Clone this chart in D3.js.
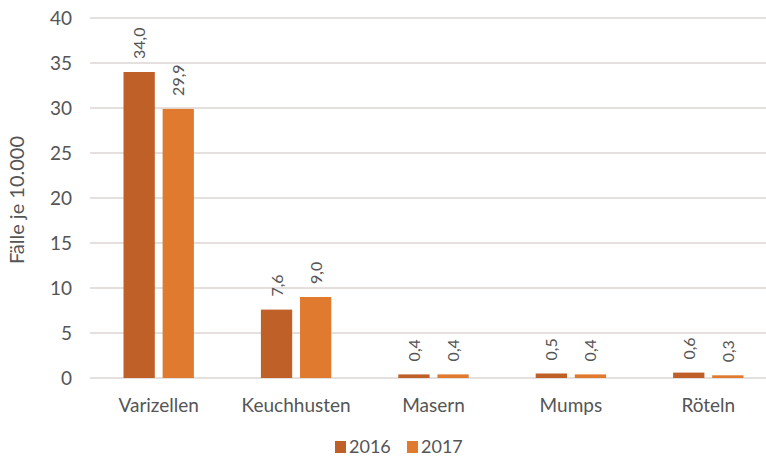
<!DOCTYPE html>
<html><head><meta charset="utf-8">
<script src="https://cdn.jsdelivr.net/npm/d3@7"></script>
<style>body{margin:0;background:#fff;overflow:hidden}svg{display:block}text{font-family:Lato,"Open Sans",sans-serif;fill:#555}</style>
</head><body>
<script>
const categories = ["Varizellen","Keuchhusten","Masern","Mumps","Röteln"];
const series = ["2016","2017"];
const values2016 = [34.0, 7.6, 0.4, 0.5, 0.6];
const values2017 = [29.9, 9.0, 0.4, 0.4, 0.3];
const yTicks = [0,5,10,15,20,25,30,35,40];
const colors = ["#BE6028","#E07A2F"];
const yTitle = "Fälle je 10.000";

const W = 766, H = 458;
const svg = d3.select("body").append("svg").attr("width", W).attr("height", H);
const m = {left: 90, right: 777, top: 18, bottom: 378};
const x = d3.scaleBand().domain(categories).range([m.left, m.right]).paddingInner(0).paddingOuter(0);
const x1 = d3.scaleBand().domain(series).range([33.5, x.bandwidth() - 33.5]).paddingInner(0.2);
const y = d3.scaleLinear().domain([0, 40]).range([m.bottom, m.top]);

// gridlines
svg.append("g").selectAll("line").data(yTicks).join("line")
  .attr("x1", m.left).attr("x2", m.right)
  .attr("y1", d => y(d)).attr("y2", d => y(d))
  .attr("stroke", "#DDD6D2").attr("stroke-width", 1.3);

// y axis labels
const yAxis = d3.axisLeft(y).tickValues(yTicks).tickSize(0).tickPadding(0).tickFormat(d3.format("d"));
const ga = svg.append("g").attr("transform", `translate(72,0)`).call(yAxis);
ga.select(".domain").remove();
ga.selectAll("text").style("font-size", "19px").attr("fill", "#555").attr("font-family", "Lato, 'Open Sans', sans-serif");

// x axis labels
const xAxis = d3.axisBottom(x).tickSize(0).tickPadding(0);
const gx = svg.append("g").attr("transform", `translate(0,398)`).call(xAxis);
gx.select(".domain").remove();
gx.selectAll("text").style("font-size", "19px").attr("fill", "#555").attr("font-family", "Lato, 'Open Sans', sans-serif");

const data = series.map((s, i) => ({s, vals: i === 0 ? values2016 : values2017, color: colors[i]}));
const fmt = v => v.toFixed(1).replace(".", ",");

data.forEach(sr => {
  const g = svg.append("g");
  g.selectAll("rect").data(categories).join("rect")
    .attr("x", (c) => x(c) + x1(sr.s))
    .attr("width", x1.bandwidth())
    .attr("y", (c, i) => y(sr.vals[i]))
    .attr("height", (c, i) => y(0) - y(sr.vals[i]))
    .attr("fill", sr.color);
  g.selectAll("text").data(categories).join("text")
    .attr("transform", (c, i) => `translate(${x(c) + x1(sr.s) + x1.bandwidth()/2 + 6},${y(sr.vals[i]) - 13}) rotate(-90)`)
    .attr("text-anchor", "start")
    .style("font-size", "16px")
    .text((c, i) => fmt(sr.vals[i]));
});

// y title
svg.append("text").attr("transform", "translate(24,200) rotate(-90)")
  .attr("text-anchor", "middle").style("font-size", "20px").text(yTitle);

// legend
const lg = svg.append("g");
const lx = [335, 407];
data.forEach((sr, i) => {
  lg.append("rect").attr("x", lx[i]).attr("y", 441).attr("width", 11).attr("height", 12).attr("fill", sr.color);
  lg.append("text").attr("x", lx[i] + 14).attr("y", 453).style("font-size", "18px").text(sr.s);
});
</script>
</body></html>
